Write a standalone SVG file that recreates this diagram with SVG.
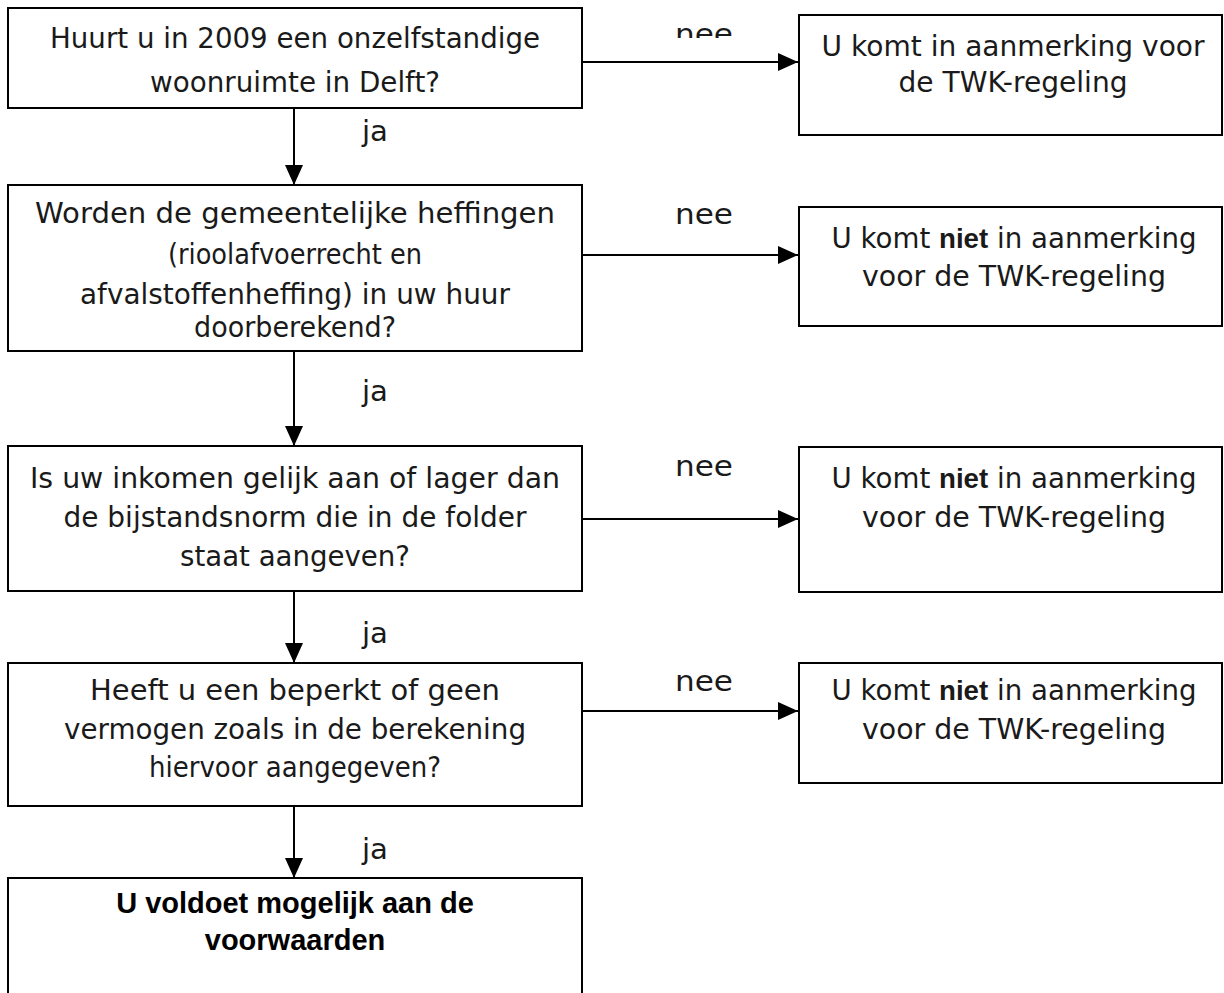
<svg xmlns="http://www.w3.org/2000/svg" width="1224" height="993" viewBox="0 0 1224 993">
<style>
.box{fill:#fff;stroke:#000;stroke-width:2}
.t{font-family:"DejaVu Sans",sans-serif;font-size:28px;fill:#1a1a1a;text-anchor:middle}
.b{font-family:"Liberation Sans",Arial,sans-serif;font-weight:bold}
.bb{font-family:"Liberation Sans",Arial,sans-serif;font-weight:bold;font-size:29px;fill:#000;text-anchor:middle}
.c{stroke:#000;stroke-width:2;fill:none;marker-end:url(#ah)}
</style>
<defs>
<marker id="ah" markerUnits="userSpaceOnUse" markerWidth="20" markerHeight="20" viewBox="0 0 20 20" refX="20" refY="10" orient="auto">
<path d="M0,1 L20,10 L0,19 Z" fill="#000"/>
</marker>
<clipPath id="neeclip"><rect x="600" y="0" width="200" height="38"/></clipPath>
</defs>
<g id="connectors">
<line class="c" x1="582" y1="62" x2="798" y2="62"/>
<line class="c" x1="582" y1="255" x2="798" y2="255"/>
<line class="c" x1="582" y1="519" x2="798" y2="519"/>
<line class="c" x1="582" y1="711" x2="798" y2="711"/>
<line class="c" x1="294" y1="108" x2="294" y2="185"/>
<line class="c" x1="294" y1="351" x2="294" y2="446"/>
<line class="c" x1="294" y1="591" x2="294" y2="663"/>
<line class="c" x1="294" y1="806" x2="294" y2="878"/>
<g clip-path="url(#neeclip)"><text class="t" x="704" y="44" textLength="58" lengthAdjust="spacingAndGlyphs">nee</text></g>
<text class="t" x="704" y="224" textLength="58" lengthAdjust="spacingAndGlyphs">nee</text>
<text class="t" x="704" y="476" textLength="58" lengthAdjust="spacingAndGlyphs">nee</text>
<text class="t" x="704" y="691" textLength="58" lengthAdjust="spacingAndGlyphs">nee</text>
<text class="t" x="375" y="141" textLength="26" lengthAdjust="spacingAndGlyphs">ja</text>
<text class="t" x="375" y="401" textLength="26" lengthAdjust="spacingAndGlyphs">ja</text>
<text class="t" x="375" y="643" textLength="26" lengthAdjust="spacingAndGlyphs">ja</text>
<text class="t" x="375" y="859" textLength="26" lengthAdjust="spacingAndGlyphs">ja</text>
</g>
<g id="q1">
<rect class="box" x="8" y="8" width="574" height="100"/>
<text class="t" x="295" y="48" textLength="490" lengthAdjust="spacingAndGlyphs">Huurt u in 2009 een onzelfstandige</text>
<text class="t" x="295" y="92" textLength="290" lengthAdjust="spacingAndGlyphs">woonruimte in Delft?</text>
</g>
<g id="r1">
<rect class="box" x="799" y="15" width="423" height="120"/>
<text class="t" x="1013" y="56" textLength="383" lengthAdjust="spacingAndGlyphs">U komt in aanmerking voor</text>
<text class="t" x="1013" y="92" textLength="229" lengthAdjust="spacingAndGlyphs">de TWK-regeling</text>
</g>
<g id="q2">
<rect class="box" x="8" y="185" width="574" height="166"/>
<text class="t" x="295" y="223" textLength="520" lengthAdjust="spacingAndGlyphs">Worden de gemeentelijke heffingen</text>
<text class="t" x="295" y="264" textLength="254" lengthAdjust="spacingAndGlyphs">(rioolafvoerrecht en</text>
<text class="t" x="295" y="304" textLength="430" lengthAdjust="spacingAndGlyphs">afvalstoffenheffing) in uw huur</text>
<text class="t" x="295" y="337" textLength="202" lengthAdjust="spacingAndGlyphs">doorberekend?</text>
</g>
<g id="r2">
<rect class="box" x="799" y="207" width="423" height="119"/>
<text class="t" x="1014" y="248" textLength="365" lengthAdjust="spacingAndGlyphs">U komt <tspan class="b">niet</tspan> in aanmerking</text>
<text class="t" x="1014" y="286" textLength="304" lengthAdjust="spacingAndGlyphs">voor de TWK-regeling</text>
</g>
<g id="q3">
<rect class="box" x="8" y="446" width="574" height="145"/>
<text class="t" x="295" y="488" textLength="530" lengthAdjust="spacingAndGlyphs">Is uw inkomen gelijk aan of lager dan</text>
<text class="t" x="295" y="527" textLength="463" lengthAdjust="spacingAndGlyphs">de bijstandsnorm die in de folder</text>
<text class="t" x="295" y="566" textLength="230" lengthAdjust="spacingAndGlyphs">staat aangeven?</text>
</g>
<g id="r3">
<rect class="box" x="799" y="447" width="423" height="145"/>
<text class="t" x="1014" y="488" textLength="365" lengthAdjust="spacingAndGlyphs">U komt <tspan class="b">niet</tspan> in aanmerking</text>
<text class="t" x="1014" y="527" textLength="304" lengthAdjust="spacingAndGlyphs">voor de TWK-regeling</text>
</g>
<g id="q4">
<rect class="box" x="8" y="663" width="574" height="143"/>
<text class="t" x="295" y="700" textLength="410" lengthAdjust="spacingAndGlyphs">Heeft u een beperkt of geen</text>
<text class="t" x="295" y="739" textLength="462" lengthAdjust="spacingAndGlyphs">vermogen zoals in de berekening</text>
<text class="t" x="295" y="777" textLength="292" lengthAdjust="spacingAndGlyphs">hiervoor aangegeven?</text>
</g>
<g id="r4">
<rect class="box" x="799" y="663" width="423" height="120"/>
<text class="t" x="1014" y="700" textLength="365" lengthAdjust="spacingAndGlyphs">U komt <tspan class="b">niet</tspan> in aanmerking</text>
<text class="t" x="1014" y="739" textLength="304" lengthAdjust="spacingAndGlyphs">voor de TWK-regeling</text>
</g>
<g id="end">
<rect class="box" x="8" y="878" width="574" height="130"/>
<text class="bb" x="295" y="913">U voldoet mogelijk aan de</text>
<text class="bb" x="295" y="950">voorwaarden</text>
</g>
</svg>
